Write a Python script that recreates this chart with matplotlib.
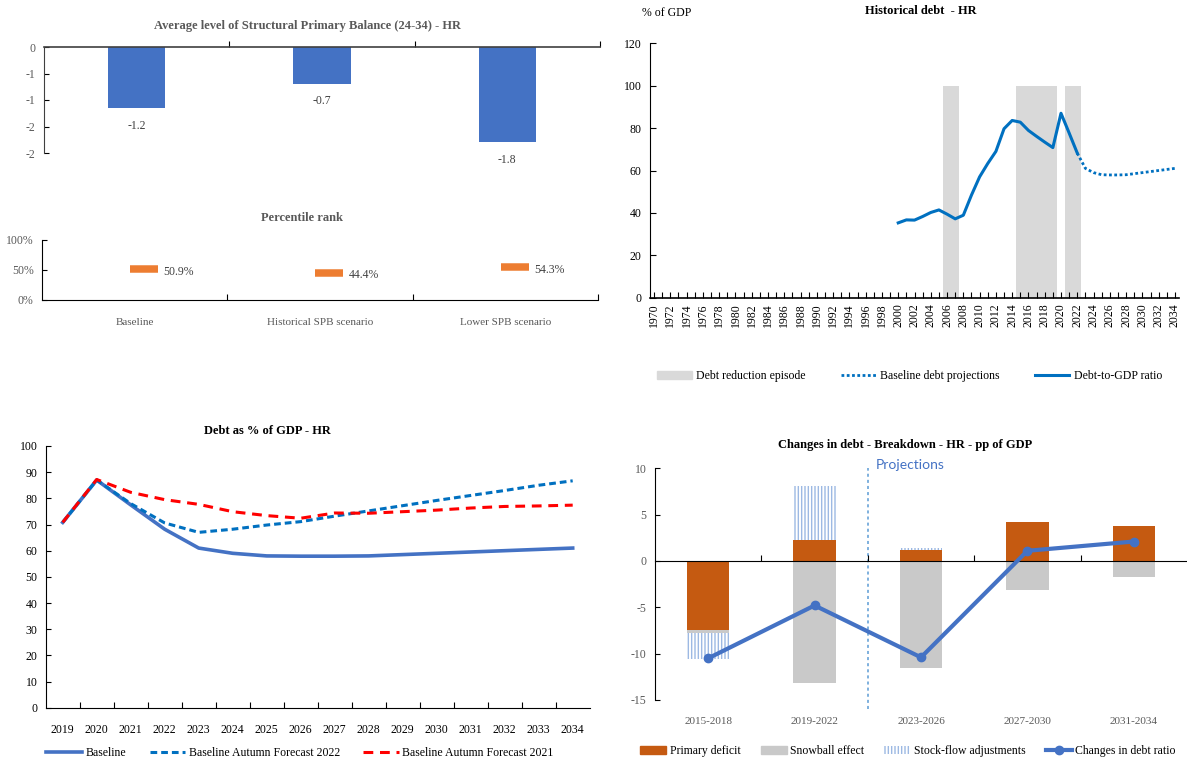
import matplotlib
matplotlib.use("Agg")
import matplotlib.pyplot as plt
from matplotlib.patches import Patch
from matplotlib.lines import Line2D
import numpy as np

plt.rcParams['font.family'] = ['Liberation Serif', 'DejaVu Serif']
plt.rcParams['hatch.linewidth'] = 1.0
plt.rcParams['axes.unicode_minus'] = False

# ---------------- data ----------------
scenarios = ["Baseline", "Historical SPB scenario", "Lower SPB scenario"]
spb_avg = [-1.16, -0.69, -1.80]
spb_ticks = [0, -0.5, -1, -1.5, -2]
spb_ticklabels = ["0", "-1", "-1", "-2", "-2"]
pct_rank = [0.509, 0.444, 0.543]

hist_years = list(range(2000, 2023))
hist_debt = [35.3, 36.7, 36.6, 38.3, 40.2, 41.4, 39.4, 37.2, 38.9, 48.4, 57.0, 63.3,
             69.0, 79.7, 83.6, 82.8, 78.9, 76.1, 73.4, 70.8, 87.0, 77.7, 68.2]
episode_years = [2006, 2007, 2015, 2016, 2017, 2018, 2019, 2021, 2022]
episode_height = 100

years = [str(y) for y in range(2019, 2035)]
baseline = [70.8, 87.0, 77.5, 68.2, 61.0, 59.0, 58.0, 57.9, 57.9, 58.0, 58.5, 59.0,
            59.5, 60.0, 60.5, 61.0]
af2022 = [70.8, 87.0, 78.0, 70.6, 67.0, 68.2, 69.8, 71.1, 73.2, 75.2, 77.2, 79.2,
          81.1, 83.0, 85.0, 86.7]
af2021 = [70.8, 87.2, 82.3, 79.5, 77.7, 74.9, 73.4, 72.4, 74.4, 74.3, 74.9, 75.5,
          76.3, 76.9, 77.1, 77.4]
proj_years = list(range(2022, 2035))
proj_debt = baseline[3:]

periods = ["2015-2018", "2019-2022", "2023-2026", "2027-2030", "2031-2034"]
primary_deficit = [-7.5, 2.3, 1.2, 4.2, 3.8]
snowball = [-0.3, -13.2, -11.6, -3.1, -1.7]
sfa = [-2.8, 5.8, 0.2, 0.0, 0.0]
debt_change = [-10.5, -4.8, -10.4, 1.1, 2.1]

W, H = 1187, 761
fig = plt.figure(figsize=(W / 100, H / 100), dpi=100)


def box(x0, x1, ytop, ybot):
    return [x0 / W, 1 - ybot / H, (x1 - x0) / W, (ybot - ytop) / H]


def ftext(x, y, s, **kw):
    fig.text(x / W, 1 - y / H, s, ha=kw.pop('ha', 'center'), va=kw.pop('va', 'center'), **kw)


GREY_TXT = '#595959'
TICK_FS = 8.5
TITLE_FS = 9

# ---------------- top left: average SPB ----------------
ax1 = fig.add_axes(box(44, 600, 47, 153))
xc = np.arange(len(scenarios))
ax1.bar(xc, spb_avg, width=0.31, color='#4472C4')
for x, v in zip(xc, spb_avg):
    ax1.annotate(f"{v:.1f}", (x, v), xytext=(0, -12.5), textcoords='offset points',
                 ha='center', va='center', fontsize=TICK_FS, color='#404040')
ax1.set_xlim(-0.5, 2.5)
ax1.set_ylim(-2, 0)
ax1.set_yticks(spb_ticks)
ax1.set_yticklabels(spb_ticklabels)
ax1.spines['bottom'].set_visible(False)
ax1.spines['right'].set_visible(False)
ax1.xaxis.tick_top()
ax1.set_xticks([0.5, 1.5, 2.5])
ax1.set_xticklabels([])
ax1.tick_params(axis='x', direction='out', length=4, width=0.8)
ax1.tick_params(axis='y', direction='in', length=3.5, width=0.8, labelsize=TICK_FS,
                labelcolor=GREY_TXT, pad=6)
ax1.spines['top'].set_color('#404040')
ax1.spines['left'].set_color('#404040')
ax1.spines['top'].set_linewidth(1.2)
ftext(308, 26, "Average level of Structural Primary Balance (24-34) - HR",
      fontsize=TITLE_FS, fontweight='bold', color=GREY_TXT)

# ---------------- percentile rank ----------------
ax2 = fig.add_axes(box(42, 598, 240, 300))
ax2.plot(xc + 0.05, pct_rank, ls='none', marker='_', ms=20, mew=5.4, color='#ED7D31')
for x, v in zip(xc + 0.05, pct_rank):
    ax2.annotate(f"{v:.1%}", (x, v), xytext=(14, -1.5), textcoords='offset points',
                 ha='left', va='center', fontsize=TICK_FS, color='#404040')
ax2.set_xlim(-0.5, 2.5)
ax2.set_ylim(0, 1)
ax2.set_yticks([0, 0.5, 1])
ax2.set_yticklabels(["0%", "50%", "100%"])
ax2.set_xticks(xc)
ax2.set_xticklabels(scenarios)
ax2.set_xticks([0.5, 1.5, 2.5], minor=True)
ax2.tick_params(axis='x', which='major', length=0, pad=13, labelsize=8, labelcolor=GREY_TXT)
ax2.tick_params(axis='x', which='minor', direction='in', length=4, width=0.8)
ax2.tick_params(axis='y', direction='in', length=3.5, width=0.8, labelsize=TICK_FS,
                labelcolor=GREY_TXT, pad=6)
for s in ['top', 'right']:
    ax2.spines[s].set_visible(False)
ftext(302, 218, "Percentile rank", fontsize=TITLE_FS, fontweight='bold', color=GREY_TXT)

# ---------------- top right: historical debt ----------------
ax3 = fig.add_axes(box(650, 1179, 43.3, 297.7))
ax3.bar(episode_years, [episode_height] * len(episode_years), width=1.0,
        color='#D9D9D9', zorder=1)
ax3.plot(proj_years, proj_debt, color='#0070C0', lw=2.0, ls=(0, (1, 0.9)), zorder=2)
ax3.plot(hist_years, hist_debt, color='#0070C0', lw=2.2, zorder=3)
ax3.set_xlim(1969.5, 2034.5)
ax3.set_ylim(0, 120)
ax3.set_yticks(range(0, 121, 20))
ax3.set_xticks(range(1970, 2035, 2))
ax3.set_xticklabels([str(y) for y in range(1970, 2035, 2)], rotation=90)
ax3.set_xticks(range(1971, 2035, 2), minor=True)
ax3.tick_params(axis='x', which='both', direction='in', length=4, width=0.8,
                labelsize=TICK_FS, pad=4)
ax3.tick_params(axis='y', direction='in', length=4, width=0.8, labelsize=TICK_FS, pad=6)
for s in ['top', 'right']:
    ax3.spines[s].set_visible(False)
ax3.spines['bottom'].set_linewidth(1.2)
ftext(642, 13.3, "% of GDP", fontsize=TICK_FS, ha='left')
ftext(921, 11, "Historical debt  - HR", fontsize=TITLE_FS, fontweight='bold')
h3 = [Patch(color='#D9D9D9'),
      Line2D([], [], color='#0070C0', lw=2.0, ls=(0, (1, 0.9))),
      Line2D([], [], color='#0070C0', lw=2.2)]
fig.legend(h3, ["Debt reduction episode", "Baseline debt projections", "Debt-to-GDP ratio"],
           loc='center', bbox_to_anchor=(910 / W, 1 - 376 / H), ncol=3, frameon=False,
           fontsize=8.5, handlelength=2.9, columnspacing=3.0, handletextpad=0.4)

# ---------------- bottom left: debt as % of GDP ----------------
ax4 = fig.add_axes(box(45.7, 589.7, 446, 707.7))
xi = np.arange(len(years))
ax4.plot(xi, baseline, color='#4472C4', lw=2.6, zorder=1, label="Baseline")
ax4.plot(xi, af2022, color='#0070C0', lw=2.2, ls=(0, (2.2, 1.3)), zorder=2,
         label="Baseline Autumn Forecast 2022")
ax4.plot(xi, af2021, color='#FF0000', lw=2.2, ls=(0, (3.2, 2.2)), zorder=3,
         label="Baseline Autumn Forecast 2021")
ax4.set_xlim(-0.5, len(years) - 0.5)
ax4.set_ylim(0, 100)
ax4.set_yticks(range(0, 101, 10))
ax4.set_xticks(xi)
ax4.set_xticklabels(years)
ax4.set_xticks(xi[:-1] + 0.5, minor=True)
ax4.tick_params(axis='x', which='major', length=0, pad=12, labelsize=TICK_FS)
ax4.tick_params(axis='x', which='minor', direction='in', length=4, width=0.8)
ax4.tick_params(axis='y', direction='in', length=3.5, width=0.8, labelsize=TICK_FS, pad=6)
for s in ['top', 'right']:
    ax4.spines[s].set_visible(False)
ftext(267, 431, "Debt as % of GDP - HR", fontsize=TITLE_FS, fontweight='bold')
fig.legend(*ax4.get_legend_handles_labels(), loc='center',
           bbox_to_anchor=(300 / W, 1 - 753 / H), ncol=3, frameon=False, fontsize=8.5,
           handlelength=3.0, columnspacing=2.0, handletextpad=0.3)

# ---------------- bottom right: changes in debt ----------------
ax5 = fig.add_axes(box(655, 1187, 468.3, 700))
xp = np.arange(len(periods))
pos_base = np.zeros(len(periods))
neg_base = np.zeros(len(periods))
styles = [dict(color='#C55A11'), dict(color='#C9C9C9'),
          dict(facecolor='white', edgecolor='#9DB9E3', hatch='|||||', linewidth=0)]
for vals, st in zip([primary_deficit, snowball, sfa], styles):
    vals = np.array(vals)
    bottom = np.where(vals >= 0, pos_base, neg_base)
    ax5.bar(xp, vals, bottom=bottom, width=0.40, zorder=2, **st)
    pos_base = pos_base + np.where(vals > 0, vals, 0)
    neg_base = neg_base + np.where(vals < 0, vals, 0)
ax5.plot(xp, debt_change, color='#4472C4', lw=3, marker='o', ms=6, zorder=4)
ax5.axvline(1.5, ymin=-0.04, ymax=1, color='#5B9BD5', lw=1.1, ls=(0, (2, 2)),
            clip_on=False, zorder=1)
ax5.set_xlim(-0.5, 4.5)
ax5.set_ylim(-15, 10)
ax5.set_yticks(range(-15, 11, 5))
ax5.spines['bottom'].set_position(('data', 0))
ax5.spines['bottom'].set_zorder(3)
ax5.set_xticks([0.5, 1.5, 2.5, 3.5])
ax5.set_xticklabels([])
ax5.tick_params(axis='x', direction='in', length=4, width=0.8)
ax5.tick_params(axis='y', direction='in', length=3.5, width=0.8, labelsize=TICK_FS,
                labelcolor=GREY_TXT, pad=6)
for s in ['top', 'right']:
    ax5.spines[s].set_visible(False)
sec = ax5.secondary_xaxis('bottom')
sec.set_xticks(xp)
sec.set_xticklabels(periods)
sec.tick_params(length=0, pad=12, labelsize=8, labelcolor=GREY_TXT)
sec.spines['bottom'].set_visible(False)
ftext(905, 445, "Changes in debt - Breakdown - HR - pp of GDP", fontsize=TITLE_FS,
      fontweight='bold')
ftext(876, 465, "Projections", fontsize=10, ha='left', color='#4472C4',
      family=['Lato', 'DejaVu Sans'])
h5 = [Patch(color='#C55A11'), Patch(color='#C9C9C9'),
      Patch(facecolor='white', edgecolor='#9DB9E3', hatch='|||||', linewidth=0),
      Line2D([], [], color='#4472C4', lw=3, marker='o', ms=6)]
fig.legend(h5, ["Primary deficit", "Snowball effect", "Stock-flow adjustments",
                "Changes in debt ratio"],
           loc='center', bbox_to_anchor=(908 / W, 1 - 751 / H), ncol=4, frameon=False,
           fontsize=8.5, handlelength=2.2, columnspacing=1.7, handletextpad=0.3)

fig.savefig("out.png", dpi=100)
